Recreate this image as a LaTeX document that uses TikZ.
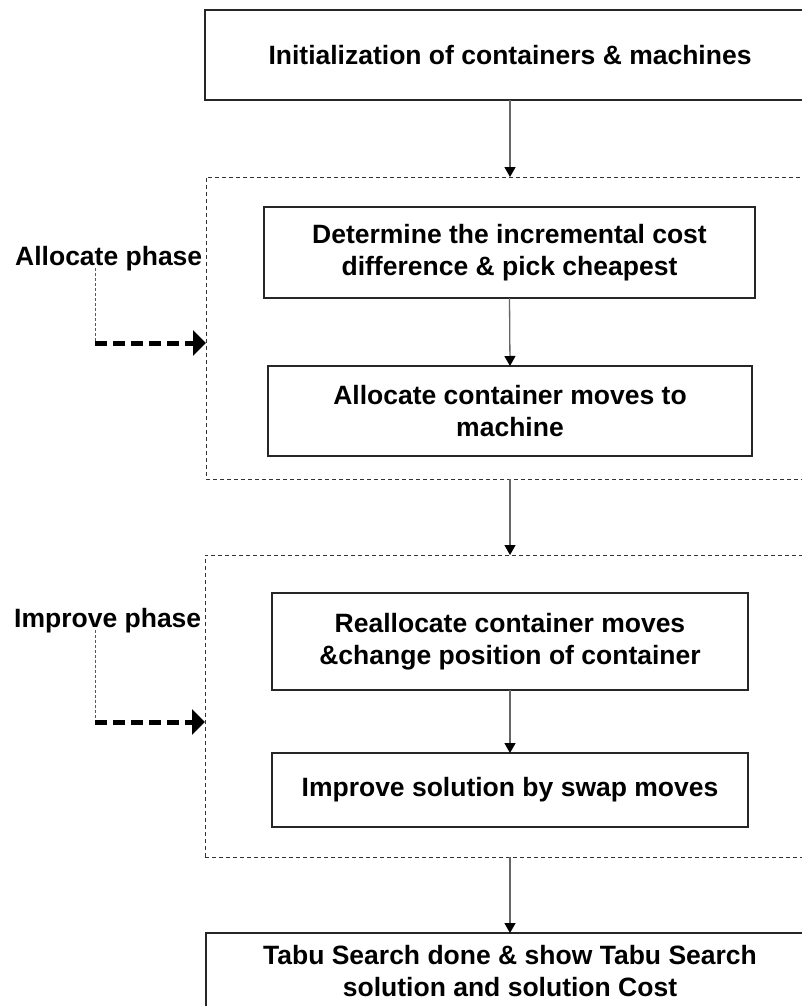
\documentclass[tikz,border=0pt]{standalone}
\usepackage{fontspec}
\setmainfont{Liberation Sans}
\usetikzlibrary{arrows.meta}
\begin{document}
\begin{tikzpicture}[x=1pt,y=-1pt,
  every node/.style={font=\fontsize{26.5}{32}\selectfont\bfseries},
  stepbox/.style={draw=black!85, line width=1.1pt, inner sep=0pt, outer sep=0pt, align=center},
  phasebox/.style={draw=black!80, line width=1pt, dash pattern=on 4pt off 3pt, inner sep=0pt, outer sep=0pt},
  flow/.style={draw=black!60, line width=1.3pt, -{Triangle[length=10pt,width=11pt,color=black]}},
  guide/.style={draw=black!65, line width=1pt, dash pattern=on 3pt off 2pt},
  phasearrow/.style={draw=black, line width=5pt, dash pattern=on 12pt off 6pt, -{Triangle[length=13pt,width=25pt]}},
  lbl/.style={inner sep=0pt, anchor=base west}
]
\useasboundingbox (0,0) rectangle (802,1006);
\clip (0,0) rectangle (802,1006);
\fill[white] (0,0) rectangle (802,1006);

\node[stepbox, minimum width=610, minimum height=90] (init) at (510,55) {Initialization of containers \& machines};

\node[phasebox, minimum width=608, minimum height=302] (ph1) at (510,328) {};
\node[stepbox, minimum width=491, minimum height=91] (det) at (509.5,252.5) {Determine the incremental cost\\difference \& pick cheapest};
\node[stepbox, minimum width=484, minimum height=90] (alloc) at (510,411) {Allocate container moves to\\machine};

\node[phasebox, minimum width=610, minimum height=302] (ph2) at (510,706) {};
\node[stepbox, minimum width=476, minimum height=97] (realloc) at (510,641.5) {Reallocate container moves\\\&change position of container};
\node[stepbox, minimum width=476, minimum height=74] (swap) at (510,790) {Improve solution by swap moves};

\node[stepbox, minimum width=608, minimum height=76] (done) at (510,971) {Tabu Search done \& show Tabu Search\\solution and solution Cost};

\node[lbl] (allocl) at (15,265) {Allocate phase};
\node[lbl] (impl) at (14,627) {Improve phase};

\draw[flow] (init.south) -- (ph1.north);
\draw[flow] (det.south) -- (alloc.north);
\draw[flow] (ph1.south) -- (ph2.north);
\draw[flow] (realloc.south) -- (swap.north);
\draw[flow] (ph2.south) -- (done.north);

\coordinate (a1) at (95,268);
\coordinate (a2) at (95,343);
\draw[guide] (a1) -- (a2);
\draw[phasearrow] (a2) -- (a2 -| ph1.west);

\coordinate (b1) at (95,630);
\coordinate (b2) at (95,722);
\draw[guide] (b1) -- (b2);
\draw[phasearrow] (b2) -- (b2 -| ph2.west);
\end{tikzpicture}
\end{document}
